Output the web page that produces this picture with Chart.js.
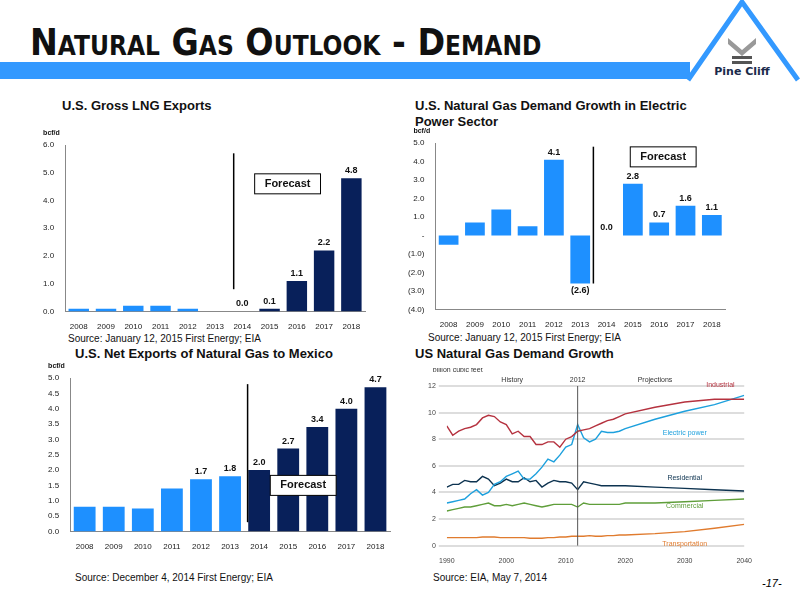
<!DOCTYPE html>
<html><head><meta charset="utf-8">
<script src="https://cdn.jsdelivr.net/npm/chart.js@4"></script>
<style>
body{margin:0;width:800px;height:600px;position:relative;background:#fff;font-family:Arial,"Liberation Sans",sans-serif;overflow:hidden}
.abs{position:absolute}
h1{position:absolute;left:30px;top:21px;margin:0;font:bold 37px "DejaVu Sans Condensed","DejaVu Sans",sans-serif;font-variant:small-caps;color:#111}
.ttl{position:absolute;font:bold 13px Arial,"Liberation Sans";color:#111}
.src{position:absolute;font:10px Arial,"Liberation Sans";color:#111}
canvas{position:absolute}
</style></head><body>
<h1>Natural Gas Outlook - Demand</h1>
<div class="abs" style="left:0;top:62px;width:690px;height:17px;background:#3399ff"></div>
<svg class="abs" style="left:680px;top:0" width="120" height="90">
<polyline points="8,80 62,2 118,80" fill="none" stroke="#3399ff" stroke-width="5"/>
<polygon points="48,38 62,50 76,38 76,44 62,56 48,44" fill="#999"/>
<rect x="52" y="56" width="20" height="3" fill="#555"/><rect x="52" y="61" width="20" height="3" fill="#555"/>
<text x="62" y="75" text-anchor="middle" font-family="DejaVu Sans" font-weight="bold" font-size="11" fill="#1a2a4a">Pine Cliff</text>
</svg>
<div class="ttl" style="left:62px;top:98px">U.S. Gross LNG Exports</div>
<div class="ttl" style="left:415px;top:98px;line-height:16px">U.S. Natural Gas Demand Growth in Electric<br>Power Sector</div>
<div class="ttl" style="left:75px;top:346px">U.S. Net Exports of Natural Gas to Mexico</div>
<div class="ttl" style="left:415px;top:346px">US Natural Gas Demand Growth</div>
<div class="src" style="left:68px;top:333px">Source: January 12, 2015 First Energy; EIA</div>
<div class="src" style="left:428px;top:332px">Source: January 12, 2015 First Energy; EIA</div>
<div class="src" style="left:75px;top:572px">Source: December 4, 2014 First Energy; EIA</div>
<div class="src" style="left:433px;top:572px">Source: EIA, May 7, 2014</div>
<div class="abs" style="left:762px;top:577px;font:italic 11px Arial">-17-</div>

<canvas id="c1" style="left:40px;top:120px" width="330" height="215"></canvas>
<canvas id="c2" style="left:405px;top:128px" width="325" height="205"></canvas>
<canvas id="c3" style="left:45px;top:360px" width="350" height="195"></canvas>
<canvas id="c4" style="left:425px;top:368px" width="330" height="200"></canvas>
<script>
const years = ['2008','2009','2010','2011','2012','2013','2014','2015','2016','2017','2018'];
const lngExports = [0.1,0.1,0.2,0.2,0.1,0.0,0.0,0.1,1.1,2.2,4.8];
const powerGrowth = [-0.5,0.7,1.4,0.5,4.1,-2.6,0.0,2.8,0.7,1.6,1.1];
const mexicoExports = [0.8,0.8,0.75,1.4,1.7,1.8,2.0,2.7,3.4,4.0,4.7];

const eiaYears = [1990,1991,1992,1993,1994,1995,1996,1997,1998,1999,2000,2001,2002,2003,2004,2005,2006,2007,2008,2009,2010,2011,2012,2013,2014,2015,2016,2017,2018,2019,2020,2025,2030,2035,2040];
const industrial = [9.0,8.3,8.6,8.8,8.9,9.1,9.6,9.8,9.7,9.3,9.1,8.4,8.6,8.2,8.2,7.6,7.6,7.8,7.8,7.4,8.0,8.2,8.6,8.7,8.8,9.0,9.2,9.4,9.5,9.7,9.9,10.4,10.8,11.0,11.0];
const electric = [3.2,3.3,3.4,3.5,3.9,4.2,3.8,4.0,4.6,4.8,5.2,5.4,5.6,5.0,5.0,5.4,5.9,6.5,6.3,6.8,7.4,7.6,9.1,8.1,7.8,8.0,8.6,8.5,8.5,8.6,8.8,9.5,10.1,10.6,11.3];
const residential = [4.4,4.6,4.6,4.9,4.8,4.8,5.2,5.0,4.5,4.7,5.0,4.8,4.8,5.1,4.8,4.9,4.4,4.7,4.9,4.8,4.8,4.7,4.2,4.8,4.7,4.6,4.5,4.5,4.5,4.5,4.5,4.4,4.3,4.2,4.1];
const commercial = [2.6,2.7,2.8,2.9,2.9,3.0,3.1,3.2,3.0,3.0,3.1,3.0,3.1,3.2,3.1,3.0,2.9,3.0,3.1,3.1,3.1,3.1,2.9,3.2,3.1,3.1,3.1,3.1,3.1,3.1,3.2,3.2,3.3,3.4,3.5];
const transportation = [0.6,0.6,0.6,0.6,0.6,0.6,0.65,0.65,0.65,0.6,0.6,0.6,0.6,0.6,0.55,0.55,0.55,0.6,0.6,0.65,0.65,0.7,0.7,0.7,0.75,0.7,0.7,0.75,0.75,0.8,0.8,0.9,1.05,1.3,1.6];

const light = '#1e90ff', navy = '#08205a';
const tickFont = {family:'Arial', size:8};
const paren = v => v < 0 ? '(' + Math.abs(v).toFixed(1) + ')' : v.toFixed(1);

// value labels + forecast divider + forecast box
function barExtras(opts){
  return {id:'extras', afterDatasetsDraw(chart){
    const ctx = chart.ctx, meta = chart.getDatasetMeta(0), data = chart.data.datasets[0].data;
    const x = chart.scales.x, y = chart.scales.y;
    ctx.save();
    ctx.font = 'bold 9px Arial'; ctx.fillStyle = '#111'; ctx.textAlign = 'center';
    meta.data.forEach((bar, i) => {
      if (i < opts.labelFrom) return;
      const v = data[i];
      if (v < 0) { ctx.textBaseline = 'top'; ctx.fillText(paren(v), bar.x, bar.y + 3); }
      else { ctx.textBaseline = 'bottom'; ctx.fillText(paren(v), bar.x, bar.y - 3); }
    });
    const lx = (meta.data[opts.divider - 1].x + meta.data[opts.divider].x) / 2 + (opts.shift || 0);
    ctx.strokeStyle = '#000'; ctx.lineWidth = 1.5;
    ctx.beginPath(); ctx.moveTo(lx, y.getPixelForValue(opts.lineTop)); ctx.lineTo(lx, y.getPixelForValue(opts.lineBot)); ctx.stroke();
    const bx = x.getPixelForValue(opts.box[0]) + (opts.boxShift || 0), by = y.getPixelForValue(opts.box[1]);
    ctx.font = 'bold 11px Arial'; ctx.textBaseline = 'middle';
    const w = ctx.measureText('Forecast').width + 20;
    ctx.fillStyle = '#fff'; ctx.fillRect(bx - w/2, by - 10, w, 20);
    ctx.lineWidth = 1; ctx.strokeRect(bx - w/2, by - 10, w, 20);
    ctx.fillStyle = '#111'; ctx.fillText('Forecast', bx, by);
    ctx.restore();
  }};
}

function barChart(id, values, colors, yOpts, extra, pad){
  return new Chart(document.getElementById(id), {
    type:'bar',
    data:{labels:years, datasets:[{data:values, backgroundColor:colors, barPercentage:0.75, categoryPercentage:1}]},
    options:{responsive:false, animation:false, layout:{padding:pad},
      plugins:{legend:{display:false}, tooltip:{enabled:false}},
      scales:{
        x:{grid:{display:false}, border:{color:'#888'}, ticks:{font:tickFont, color:'#222'}},
        y:Object.assign({grid:{display:false}, border:{color:'#888'}, ticks:{font:tickFont, color:'#222'}}, yOpts)
      }},
    plugins:[extra, {id:'unit', afterDraw(c){const ctx=c.ctx;ctx.save();ctx.font='bold 7px Arial';ctx.fillStyle='#111';ctx.fillText('bcf/d', c.chartArea.left-22, c.chartArea.top-10);ctx.restore();}}]
  });
}

const split = (a, b) => years.map((y, i) => i < 6 ? a : b);

barChart('c1', lngExports, split(light, navy),
  {min:0, max:6, ticks:{stepSize:1, font:tickFont, color:'#222', callback:v => v.toFixed(1)}},
  barExtras({labelFrom:6, divider:6, shift:5, lineTop:5.7, lineBot:0.8, box:['2015',4.6], boxShift:18}), {top:25, left:0, right:5});

barChart('c2', powerGrowth, light,
  {min:-4, max:5, ticks:{stepSize:1, font:tickFont, color:'#222', callback:v => v === 0 ? '-' : paren(v)}},
  barExtras({labelFrom:4, divider:6, shift:0, lineTop:4.8, lineBot:-2.6, box:['2016',4.25], boxShift:4}), {top:15, left:0, right:5});

barChart('c3', mexicoExports, split(light, navy),
  {min:0, max:5, ticks:{stepSize:0.5, font:tickFont, color:'#222', callback:v => v.toFixed(1)}},
  barExtras({labelFrom:4, divider:6, shift:3, lineTop:4.8, lineBot:0.3, box:['2015',1.5], boxShift:15}), {top:18, left:0, right:5});

// EIA line chart
const pts = arr => arr.map((v, i) => ({x:eiaYears[i], y:v}));
const series = [
  ['Industrial', industrial, '#b5323f', 2036, 11.9],
  ['Electric power', electric, '#1da0dd', 2030, 8.3],
  ['Residential', residential, '#0d3350', 2030, 4.9],
  ['Commercial', commercial, '#5f9e3a', 2030, 2.8],
  ['Transportation', transportation, '#e07b2e', 2030, 0.0]
];
new Chart(document.getElementById('c4'), {
  type:'line',
  data:{datasets:series.map(s => ({label:s[0], data:pts(s[1]), borderColor:s[2], borderWidth:1.4, pointRadius:0, tension:0}))},
  options:{responsive:false, animation:false, layout:{padding:{top:18, right:8}},
    plugins:{legend:{display:false}, tooltip:{enabled:false}},
    scales:{
      x:{type:'linear', min:1990, max:2040, grid:{display:false}, border:{display:false}, ticks:{stepSize:10, font:{size:7}, color:'#444', callback:v => v}},
      y:{min:0, max:12, grid:{color:'#ddd', lineWidth:2}, border:{display:false}, ticks:{stepSize:2, font:{size:7}, color:'#444'}}
    }},
  plugins:[{id:'notes', afterDatasetsDraw(c){
    const ctx = c.ctx, x = c.scales.x, y = c.scales.y;
    ctx.save();
    const lx = x.getPixelForValue(2012);
    ctx.strokeStyle = '#555'; ctx.lineWidth = 1;
    ctx.beginPath(); ctx.moveTo(lx, c.chartArea.top); ctx.lineTo(lx, c.chartArea.bottom); ctx.stroke();
    ctx.font = '7px Arial'; ctx.textAlign = 'center'; ctx.fillStyle = '#333';
    ctx.fillText('History', x.getPixelForValue(2001), c.chartArea.top - 4);
    ctx.fillText('2012', lx, c.chartArea.top - 4);
    ctx.fillText('Projections', x.getPixelForValue(2025), c.chartArea.top - 4);
    ctx.textAlign = 'left'; ctx.fillText('billion cubic feet', c.chartArea.left - 14, c.chartArea.top - 14);
    series.forEach(s => { ctx.fillStyle = s[2]; ctx.textAlign = 'center'; ctx.fillText(s[0], x.getPixelForValue(s[3]), y.getPixelForValue(s[4])); });
    ctx.restore();
  }}]
});
</script>
</body></html>
